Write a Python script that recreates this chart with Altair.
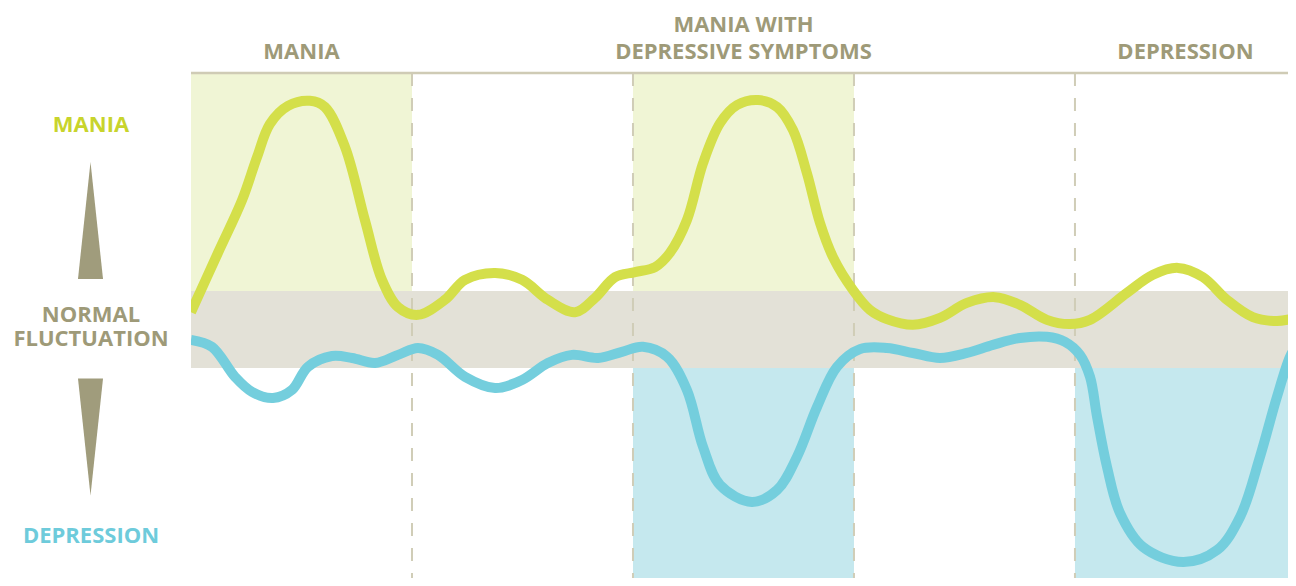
import altair as alt
import pandas as pd

# ---------------- data (x: time, 10 units per episode column; y: mood, normal band = -1..1)
period_starts = [0, 10, 20, 30, 40]
header_lines_bottom = ["MANIA", "DEPRESSIVE SYMPTOMS", "DEPRESSION"]
header_x_bottom = [5, 25, 45]
header_lines_top = ["MANIA WITH"]
header_x_top = [25]

mania_x = [0, 1.22, 2.31, 2.99, 3.57, 4.39, 5.38, 6.06, 6.97, 7.87, 8.64, 9.37, 10.27, 11.49,
           12.40, 13.76, 14.98, 16.15, 17.38, 18.28, 19.19, 20.09, 21.00, 21.67, 22.44, 23.17,
           23.94, 24.71, 25.66, 26.52, 27.24, 27.87, 28.46, 29.05, 29.95, 30.72, 31.49, 32.67,
           33.89, 35.11, 36.38, 37.51, 38.73, 39.77, 40.68, 42.35, 43.53, 44.66, 45.79, 46.88,
           48.05, 49.14, 50.00]
mania_y = [0.45, 1.99, 3.36, 4.48, 5.34, 5.81, 5.94, 5.78, 4.74, 2.84, 1.29, 0.58, 0.38, 0.77,
           1.29, 1.47, 1.29, 0.77, 0.45, 0.82, 1.36, 1.49, 1.62, 1.99, 2.84, 4.32,
           5.36, 5.83, 5.96, 5.78, 5.18, 4.06, 2.77, 1.88, 1.03, 0.51, 0.27, 0.12,
           0.30, 0.69, 0.84, 0.64, 0.25, 0.14, 0.25, 0.95, 1.42, 1.60, 1.36, 0.77,
           0.32, 0.22, 0.30]

dep_x = [0, 0.95, 1.99, 2.76, 3.71, 4.57, 5.29, 6.38, 7.29, 8.33, 9.37, 10.27, 11.18, 12.40,
         13.76, 14.98, 16.15, 17.24, 18.42, 19.50, 20.45, 21.54, 22.44, 23.17, 23.94, 25.38,
         26.52, 27.42, 28.33, 29.23, 30.27, 31.49, 32.67, 33.89, 35.11, 36.29, 37.51, 38.73,
         39.55, 40.23, 40.68, 41.00, 41.45, 42.04, 43.08, 44.89, 46.43, 47.47, 48.37, 49.14,
         49.73, 50.00]
dep_y = [-0.27, -0.45, -1.23, -1.62, -1.78, -1.57, -0.97, -0.69, -0.74, -0.87, -0.66, -0.48,
         -0.66, -1.23, -1.52, -1.31, -0.87, -0.66, -0.74, -0.58, -0.45, -0.71, -1.57, -3.05,
         -4.04, -4.48, -4.17, -3.31, -2.01, -0.97, -0.51, -0.48, -0.61, -0.74, -0.61, -0.40,
         -0.22, -0.19, -0.32, -0.66, -1.23, -2.27, -3.57, -4.77, -5.65, -6.04, -5.73, -4.87,
         -3.31, -1.75, -0.71, -0.45]

mania_shade_x = [0, 20]
depr_shade_x = [20, 40]

# ---------------- styling
W, H = 1097, 505
X_MAX = 49.64
Y_MIN, Y_MAX = -6.455, 6.662
FONT = "Open Sans"
FS = 22
TXT = "#9e9a78"
GREEN = "#d4df4a"
BLUE = "#74cedd"

xs = alt.Scale(domain=[0, X_MAX], nice=False, zero=False)
ys = alt.Scale(domain=[Y_MIN, Y_MAX], nice=False, zero=False)

band_df = pd.DataFrame({"x": [0], "x2": [50], "y": [-1], "y2": [1]})
gshade_df = pd.DataFrame({"x": mania_shade_x, "x2": [s + 10 for s in mania_shade_x]})
bshade_df = pd.DataFrame({"x": depr_shade_x, "x2": [s + 10 for s in depr_shade_x]})
rules_df = pd.DataFrame({"x": period_starts[1:]})
mania_df = pd.DataFrame({"x": mania_x, "y": mania_y})
dep_df = pd.DataFrame({"x": dep_x, "y": dep_y})

X = lambda f="x": alt.X(f"{f}:Q", scale=xs, axis=None)

gshade = alt.Chart(gshade_df).mark_rect(color="#f0f5d5", clip=True).encode(
    x=X(), x2="x2:Q", y=alt.datum(1, scale=ys, axis=None), y2=alt.datum(Y_MAX))
bshade = alt.Chart(bshade_df).mark_rect(color="#c5e8ee", clip=True).encode(
    x=X(), x2="x2:Q", y=alt.datum(Y_MIN, scale=ys, axis=None), y2=alt.datum(-1))
band = alt.Chart(band_df).mark_rect(color="#e3e1d7", clip=True).encode(
    x=X(), x2="x2:Q", y=alt.Y("y:Q", scale=ys, axis=None), y2="y2:Q")
rules = alt.Chart(rules_df).mark_rule(color="#d0cdb7", strokeWidth=2, strokeDash=[13, 12]).encode(
    x=X(), y=alt.datum(Y_MAX, scale=ys, axis=None), y2=alt.datum(Y_MIN))
top_rule = alt.Chart(band_df).mark_rule(color="#cfcbb5", strokeWidth=2.5).encode(
    x=alt.value(0), x2=alt.value(W), y=alt.value(0))

mania_line = alt.Chart(mania_df).mark_line(
    color=GREEN, strokeWidth=10, interpolate="catmull-rom", clip=True).encode(
    x=X(), y=alt.Y("y:Q", scale=ys, axis=None))
dep_line = alt.Chart(dep_df).mark_line(
    color=BLUE, strokeWidth=10, interpolate="catmull-rom", clip=True).encode(
    x=X(), y=alt.Y("y:Q", scale=ys, axis=None))

hdr_b = alt.Chart(pd.DataFrame({"x": header_x_bottom, "t": header_lines_bottom})).mark_text(
    font=FONT, fontSize=FS, fontWeight="bold", color=TXT, align="center", baseline="alphabetic").encode(
    x=X(), y=alt.value(-14), text="t:N")
hdr_t = alt.Chart(pd.DataFrame({"x": header_x_top, "t": header_lines_top})).mark_text(
    font=FONT, fontSize=FS, fontWeight="bold", color=TXT, align="center", baseline="alphabetic").encode(
    x=X(), y=alt.value(-41), text="t:N")


def side_label(text, color, ypix):
    return alt.Chart(pd.DataFrame({"t": [text]})).mark_text(
        font=FONT, fontSize=FS, fontWeight="bold", color=color, align="center",
        baseline="alphabetic").encode(x=alt.value(-100), y=alt.value(ypix), text="t:N")


labels = [
    side_label("MANIA", "#c8d42c", 59),
    side_label("NORMAL", TXT, 249),
    side_label("FLUCTUATION", TXT, 273),
    side_label("DEPRESSION", "#6ecbdb", 470),
]

UP = "M0,-1L0.214,1L-0.214,1Z"
DOWN = "M-0.214,-1L0.214,-1L0,1Z"


def arrow(shape, ypix):
    return alt.Chart(pd.DataFrame({"t": [0]})).mark_point(
        shape=shape, filled=True, color="#a09c7c", opacity=1, size=117 * 117, strokeWidth=0).encode(
        x=alt.value(-100.5), y=alt.value(ypix))


arrows = [arrow(UP, 147.5), arrow(DOWN, 364)]

chart = alt.layer(
    gshade, bshade, band, rules, top_rule, mania_line, dep_line, hdr_b, hdr_t, *labels, *arrows
).properties(
    width=W, height=H,
    autosize=alt.AutoSizeParams(type="none"),
    padding={"left": 183, "top": 65, "right": 0, "bottom": 0},
    background="white",
).configure_view(stroke=None)

chart.save("out.html", embed_options={"renderer": "svg", "actions": False})
